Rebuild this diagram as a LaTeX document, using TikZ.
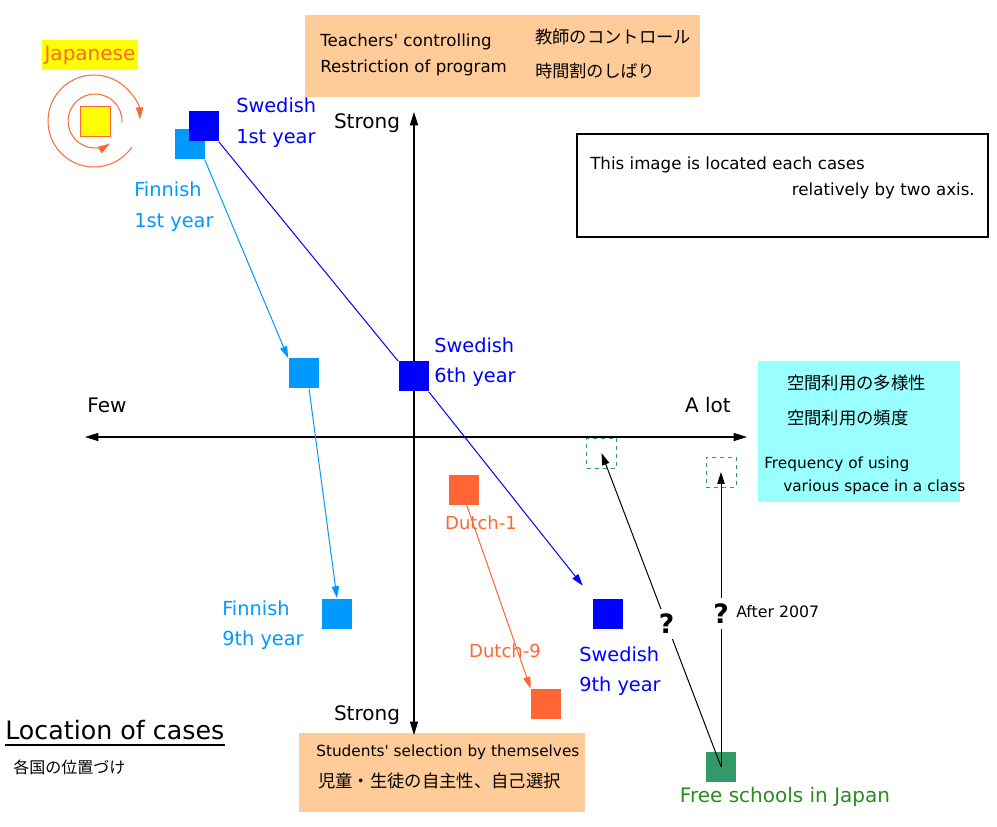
\documentclass[tikz,border=0pt]{standalone}
\usepackage{fontspec}
\setmainfont{DejaVu Sans}
\newfontfamily\jpfont{Noto Sans CJK JP}
\usetikzlibrary{arrows.meta,calc}

\definecolor{swedblue}{RGB}{0,0,255}
\definecolor{finblue}{RGB}{0,153,255}
\definecolor{dutchred}{RGB}{255,102,51}
\definecolor{freegreen}{RGB}{51,153,102}
\definecolor{freetext}{RGB}{40,140,30}
\definecolor{peach}{RGB}{255,204,153}
\definecolor{skycyan}{RGB}{153,255,255}
\definecolor{jpyellow}{RGB}{255,255,0}

\tikzset{
  casesq/.style={rectangle, minimum size=22.5pt, inner sep=0pt},
  caselabel/.style={inner sep=0pt, align=left, anchor=west, font=\fontsize{14.5}{23}\selectfont},
  boxtext/.style={inner sep=0pt, anchor=west, font=\fontsize{12}{14}\selectfont},
  boxjp/.style={inner sep=0pt, anchor=west, font=\jpfont\fontsize{12.8}{15}\selectfont},
  axislabel/.style={inner sep=0pt, font=\fontsize{15}{18}\selectfont},
  casearrow/.style={-{Triangle[length=9pt,width=5.5pt]}, line width=0.75pt},
  qmark/.style={fill=white, inner xsep=1pt, inner ysep=4pt, font=\bfseries\fontsize{20}{22}\selectfont},
}

\begin{document}
\begin{tikzpicture}[x=0.75pt,y=0.75pt,yscale=-1,xscale=1]
\useasboundingbox (0,0) rectangle (997,827);

%Boxes
\fill[peach] (305,15) rectangle (700,97);
\fill[peach] (299,733) rectangle (585,812);
\fill[skycyan] (758,361) rectangle (960,502);
\draw[line width=1pt] (577,134) rectangle (988,237);

%Box texts
\node[boxtext, font=\fontsize{12.5}{14}\selectfont] (teach) at (320,42) {Teachers\textquotesingle{} controlling};
\node[boxtext, font=\fontsize{12.5}{14}\selectfont] (restr) at (320,68) {Restriction of program};
\node[boxjp, font=\jpfont\fontsize{13}{15}\selectfont] (teachjp) at (535,37) {教師のコントロール};
\node[boxjp] (restrjp) at (535,71) {時間割のしばり};
\node[boxtext, font=\fontsize{12.5}{14}\selectfont] (info1) at (590,165) {This image is located each cases};
\node[boxtext, font=\fontsize{12.5}{14}\selectfont, anchor=east] (info2) at (975,191) {relatively by two axis.};
\node[boxjp, font=\jpfont\fontsize{13}{15}\selectfont] (varjp) at (787,383) {空間利用の多様性};
\node[boxjp, font=\jpfont\fontsize{13}{15}\selectfont] (freqjp) at (787,418) {空間利用の頻度};
\node[boxtext, font=\fontsize{11.5}{14}\selectfont] (freq1) at (764,464) {Frequency of using};
\node[boxtext, font=\fontsize{11.5}{14}\selectfont] (freq2) at (783,487) {various space in a class};
\node[boxtext, font=\fontsize{11.5}{14}\selectfont] (stud) at (316,752) {Students\textquotesingle{} selection by themselves};
\node[boxjp, font=\jpfont\fontsize{13}{15}\selectfont] (studjp) at (318,781) {児童・生徒の自主性、自己選択};

%Axes
\draw[{Triangle[length=10pt,width=6pt]}-{Triangle[length=10pt,width=6pt]}, line width=1pt] (85,437) -- (747,437);
\draw[{Triangle[length=10pt,width=6pt]}-{Triangle[length=10pt,width=6pt]}, line width=1pt] (414,112) -- (414,735);
\node[axislabel] (strongtop) at (367,123) {Strong};
\node[axislabel] (strongbot) at (367,715) {Strong};
\node[axislabel] (few) at (107,405) {Few};
\node[axislabel] (alot) at (708,405) {A lot};

%Japanese
\node[fill=jpyellow, text=dutchred, inner xsep=2pt, minimum height=22.5pt, font=\fontsize{15}{18}\selectfont] (japlabel) at (90,55) {Japanese};
\node[casesq, fill=jpyellow, draw=dutchred, line width=0.75pt] (jap) at (95,122) {};
\draw[casearrow, dutchred] (131.7,147.4) arc[start angle=35, end angle=358, radius=46];
\draw[casearrow, dutchred] (122,122.4) arc[start angle=3, end angle=-303, radius=27];

%Cases
\node[casesq, fill=finblue] (fin1) at (189.5,144.5) {};
\node[casesq, fill=swedblue] (swe1) at (203.5,126.5) {};
\node[casesq, fill=finblue] (finm) at (303.5,373.5) {};
\node[casesq, fill=swedblue] (swe6) at (413.5,376.5) {};
\node[casesq, fill=finblue] (fin9) at (337,613.5) {};
\node[casesq, fill=swedblue] (swe9) at (608,613.5) {};
\node[casesq, fill=dutchred] (dut1) at (464,490) {};
\node[casesq, fill=dutchred] (dut9) at (546,704) {};
\node[casesq, fill=freegreen] (free) at (721,766.5) {};
\node[casesq, draw=freegreen, dashed, line width=0.6pt] (q1) at (601.5,453) {};
\node[casesq, draw=freegreen, dashed, line width=0.6pt] (q2) at (721,472) {};

%Case labels
\node[caselabel, text=swedblue] (swe1lab) at (236,122.5) {Swedish\\1st year};
\node[caselabel, text=finblue] (fin1lab) at (134,207) {Finnish\\1st year};
\node[caselabel, text=swedblue] (swe6lab) at (434,362) {Swedish\\6th year};
\node[caselabel, text=finblue] (fin9lab) at (222,625) {Finnish\\9th year};
\node[caselabel, text=swedblue] (swe9lab) at (579,671) {Swedish\\9th year};
\node[inner sep=0pt, text=dutchred, font=\fontsize{13.5}{16}\selectfont] (dut1lab) at (481,523) {Dutch-1};
\node[inner sep=0pt, text=dutchred, font=\fontsize{13.5}{16}\selectfont] (dut9lab) at (505,651) {Dutch-9};
\node[inner sep=0pt, text=freetext, font=\fontsize{15}{18}\selectfont] (freelab) at (785,797) {Free schools in Japan};

%Connectors
\draw[finblue, casearrow] (fin1.south east) -- (finm.north west);
\draw[finblue, casearrow] (finm.290) -- (fin9.north);
\draw[swedblue, line width=0.75pt] (swe1.south east) -- (swe6.north west);
\draw[swedblue, casearrow, shorten >=12pt] (swe6.south east) -- (swe9.north west);
\draw[dutchred, casearrow] (dut1.280) -- (dut9.north west);
\draw[casearrow] (free.center) -- node[qmark, pos=0.455] (qa) {?} (q1.center);
\draw[casearrow] (free.center) -- node[qmark, pos=0.52] (qb) {?} (q2.center);
\node[inner sep=0pt, anchor=west, font=\fontsize{11.8}{14}\selectfont] (after) at (736,612) {After 2007};

%Title
\node[inner sep=0pt, anchor=west, font=\fontsize{19}{22}\selectfont] (loc) at (5,730) {Location of cases};
\draw[line width=1.5pt] ($(loc.south west)+(0,5)$) -- ($(loc.south east)+(0,5)$);
\node[inner sep=0pt, anchor=west, font=\jpfont\fontsize{12}{14}\selectfont] (locjp) at (13,767) {各国の位置づけ};

\end{tikzpicture}
\end{document}
